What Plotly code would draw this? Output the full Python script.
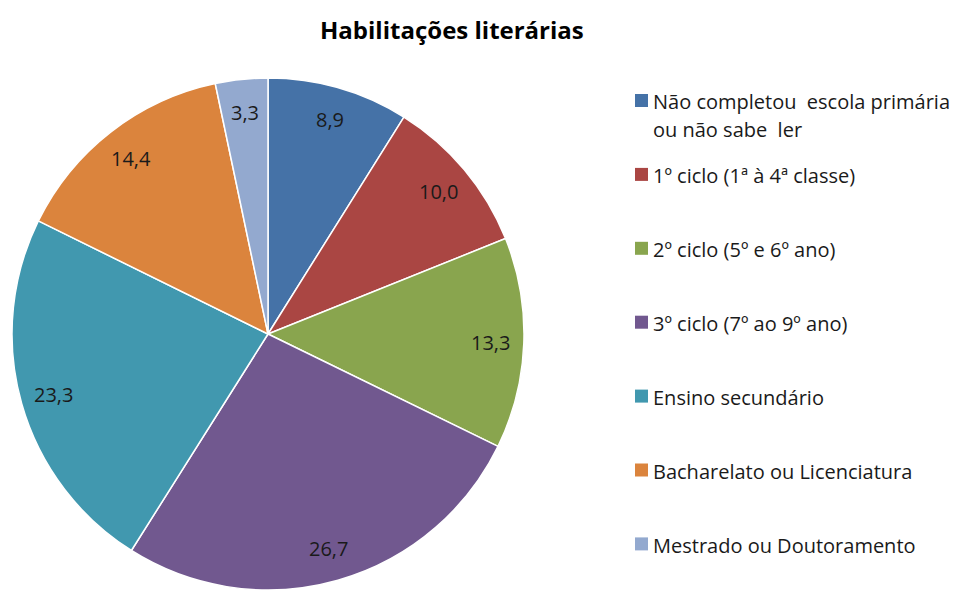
import math
import plotly.graph_objects as go

categories = [
    "Não completou  escola primária<br>ou não sabe  ler",
    "1º ciclo (1ª à 4ª classe)",
    "2º ciclo (5º e 6º ano)",
    "3º ciclo (7º ao 9º ano)",
    "Ensino secundário",
    "Bacharelato ou Licenciatura",
    "Mestrado ou Doutoramento",
]
values = [8.9, 10.0, 13.3, 26.7, 23.3, 14.4, 3.3]
colors = ["#4572A7", "#AA4643", "#89A54E", "#71588F", "#4198AF", "#DB843D", "#93A9CF"]

W, H = 966, 590
FONT = "Open Sans"
TXT = "#1a1a1a"

# pie geometry (pixels)
CX, CY, R = 268, 334, 256
LABEL_R = 0.87

fig = go.Figure()
fig.add_trace(go.Pie(
    labels=categories,
    values=values,
    textinfo="none",
    marker=dict(colors=colors, line=dict(color="white", width=1.5)),
    sort=False,
    direction="clockwise",
    rotation=0,
    showlegend=False,
    domain=dict(x=[(CX - R) / W, (CX + R) / W], y=[(H - CY - R) / H, (H - CY + R) / H]),
    hoverinfo="label+value",
))

annotations = []
shapes = []

# data labels placed along each slice's bisector
total = sum(values)
cum = 0.0
for v in values:
    mid = (cum + v / 2) / total * 2 * math.pi
    cum += v
    px = CX + LABEL_R * R * math.sin(mid)
    py = CY - LABEL_R * R * math.cos(mid)
    annotations.append(dict(
        x=px / W, y=1 - py / H, xref="paper", yref="paper",
        text=f"{v:.1f}".replace(".", ","), showarrow=False,
        xanchor="center", yanchor="middle",
        font=dict(family=FONT, size=20, color=TXT),
    ))

# legend
LEG_TOP, LEG_STEP, LINE_STEP = 102, 73.9, 28
for i, (cat, col) in enumerate(zip(categories, colors)):
    y0 = LEG_TOP + i * LEG_STEP
    shapes.append(dict(
        type="rect", xref="paper", yref="paper",
        x0=635 / W, x1=648 / W, y0=1 - (y0 - 8) / H, y1=1 - (y0 + 5) / H,
        fillcolor=col, line=dict(width=0),
    ))
    for j, line in enumerate(cat.split("<br>")):
        annotations.append(dict(
            x=651 / W, y=1 - (y0 + j * LINE_STEP) / H, xref="paper", yref="paper",
            text=line, showarrow=False, xanchor="left", yanchor="middle",
            font=dict(family=FONT, size=20, color=TXT),
        ))

annotations.append(dict(
    x=452 / W, y=1 - 29 / H, xref="paper", yref="paper",
    text="<b>Habilitações literárias</b>", showarrow=False,
    xanchor="center", yanchor="middle",
    font=dict(family=FONT, size=24, color="#000000"),
))

fig.update_layout(
    width=W, height=H,
    margin=dict(l=0, r=0, t=0, b=0),
    paper_bgcolor="white", plot_bgcolor="white",
    annotations=annotations, shapes=shapes,
    showlegend=False,
)

fig.write_html("out.html", config={"displayModeBar": False},
               post_script="document.body.style.margin='0px';")
